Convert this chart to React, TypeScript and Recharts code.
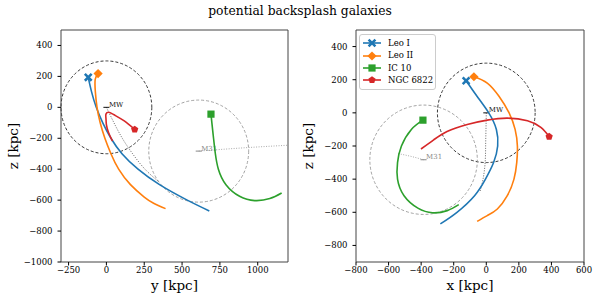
import React from "react";
import { ScatterChart, Scatter, XAxis, YAxis, ReferenceArea, ReferenceDot, Label } from "recharts";

// ================= Orbits (x, y, z in kpc) =================
const leoIX = [-124, -57, 15, 62, 70, 45, -5, -72, -180, -282];
const leoIY = [-120, -98, -67, -24, 30, 103, 209, 351, 534, 680];
const leoIZ = [194, 100, 0, -100, -200, -300, -400, -500, -600, -670];

const leoIIX = [-76, 6, 78, 140, 177, 191, 187, 170, 129, 68, 6, -56];
const leoIIY = [-55, -74, -73, -62, -41, -10, 30, 81, 159, 250, 312, 391];
const leoIIZ = [218, 180, 100, 0, -100, -200, -300, -400, -500, -580, -620, -655];

const ic10X = [-389, -460, -521, -545, -545, -505, -420, -330, -240, -169];
const ic10Y = [691, 697, 708, 720, 740, 790, 880, 980, 1080, 1158];
const ic10Z = [-44, -100, -200, -300, -400, -500, -575, -603, -590, -554];

const ngcX = [386, 335, 253, 129, 6, -117, -241, -323, -401];
const ngcY = [187, 118, 50, 15, -3, -3, 0, 14, 40];
const ngcZ = [-143, -88, -48, -32, -44, -70, -112, -163, -218];

// host tracks
const mwX = [0, -2, -4, -7, -20, -40];
const mwY = [0, 50, 105, 173, 255, 345];
const mwZ = [0, -100, -200, -300, -400, -480];

const m31X = [-385, -465, -545];
const m31Y = [610, 905, 1200];
const m31Z = [-283, -262, -245];

const MW_R = 300;
const M31_R = 330;

// ================= Ticks =================
const leftXTicks = [-250, 0, 250, 500, 750, 1000];
const leftZTicks = [-1000, -800, -600, -400, -200, 0, 200, 400];
const rightXTicks = [-800, -600, -400, -200, 0, 200, 400, 600];
const rightZTicks = [-800, -600, -400, -200, 0, 200, 400];

const galaxies = [
  { name: "Leo I", color: "#1f77b4", marker: "X", x: leoIX, y: leoIY, z: leoIZ },
  { name: "Leo II", color: "#ff7f0e", marker: "D", x: leoIIX, y: leoIIY, z: leoIIZ },
  { name: "IC 10", color: "#2ca02c", marker: "s", x: ic10X, y: ic10Y, z: ic10Z },
  { name: "NGC 6822", color: "#d62728", marker: "p", x: ngcX, y: ngcY, z: ngcZ },
];

const FONT = "'DejaVu Serif', serif";

const track = (h: number[], z: number[]) => h.map((v, i) => ({ h: v, z: z[i] }));
const minus = (v: number) => String(v).replace("-", "\u2212");

const MarkerIcon = ({ type, cx, cy, color }: any) => {
  if (type === "X") {
    const a = 4.3, w = 1.8;
    const pts = [
      [0, -w], [a - w, -a], [a, -a + w], [w, 0], [a, a - w], [a - w, a],
      [0, w], [-a + w, a], [-a, a - w], [-w, 0], [-a, -a + w], [-a + w, -a],
    ].map(([px, py]) => `${cx + px},${cy + py}`).join(" ");
    return <polygon points={pts} fill={color} />;
  }
  if (type === "D") {
    const r = 4.6;
    return <polygon points={`${cx},${cy - r} ${cx + r},${cy} ${cx},${cy + r} ${cx - r},${cy}`} fill={color} />;
  }
  if (type === "s") {
    return <rect x={cx - 3.6} y={cy - 3.6} width={7.2} height={7.2} fill={color} />;
  }
  const r = 3.8;
  const pts = [0, 1, 2, 3, 4]
    .map((k) => {
      const t = -Math.PI / 2 + (k * 2 * Math.PI) / 5;
      return `${cx + r * Math.cos(t)},${cy + r * Math.sin(t)}`;
    })
    .join(" ");
  return <polygon points={pts} fill={color} />;
};

const circleShape = (stroke: string) => (p: any) => (
  <ellipse
    cx={p.x + p.width / 2}
    cy={p.y + p.height / 2}
    rx={p.width / 2}
    ry={p.height / 2}
    fill="none"
    stroke={stroke}
    strokeWidth={0.9}
    strokeDasharray="3 2"
  />
);

const hostLabel = (text: string, color: string) => (p: any) => (
  <g>
    <line x1={p.cx - 3} x2={p.cx + 3} y1={p.cy} y2={p.cy} stroke={color} strokeWidth={1} />
    <text x={p.cx + 2.5} y={p.cy - 0.5} fontSize={7} fontFamily={FONT} fill={color}>
      {text}
    </text>
  </g>
);

const Panel = ({ axis, xDomain, zDomain, xTicks, zTicks, margin }: any) => {
  const mwH = axis === "x" ? mwX : mwY;
  const m31H = axis === "x" ? m31X : m31Y;
  const m31C = axis === "x" ? m31X[0] : m31Y[0];
  const tickStyle = { fontFamily: FONT, fontSize: 8.5, fill: "#000" };
  return (
    <ScatterChart width={300} height={300} margin={margin}>
      <XAxis
        type="number"
        dataKey="h"
        domain={xDomain}
        ticks={xTicks}
        interval={0}
        allowDataOverflow
        tick={tickStyle}
        tickSize={3.5}
        tickMargin={1}
        tickLine={{ stroke: "#000" }}
        axisLine={false}
        tickFormatter={minus}
        height={30}
      >
        <Label
          content={(p: any) => (
            <text
              x={p.viewBox.x + p.viewBox.width / 2}
              y={p.viewBox.y + 28}
              textAnchor="middle"
              fontFamily={FONT}
              fontSize={13.5}
              fill="#000"
            >
              {axis} [kpc]
            </text>
          )}
        />
      </XAxis>
      <YAxis
        type="number"
        dataKey="z"
        domain={zDomain}
        ticks={zTicks}
        interval={0}
        allowDataOverflow
        tick={tickStyle}
        tickSize={3.5}
        tickMargin={5}
        tickLine={{ stroke: "#000" }}
        axisLine={false}
        tickFormatter={minus}
        width={40}
      >
        <Label
          content={(p: any) => {
            const cx = p.viewBox.x - 3;
            const cy = p.viewBox.y + p.viewBox.height / 2;
            return (
              <text
                x={cx}
                y={cy}
                transform={`rotate(-90 ${cx} ${cy})`}
                textAnchor="middle"
                fontFamily={FONT}
                fontSize={13.5}
                fill="#000"
              >
                z [kpc]
              </text>
            );
          }}
        />
      </YAxis>

      {/* host spheres */}
      <ReferenceArea x1={-MW_R} x2={MW_R} y1={-MW_R} y2={MW_R} ifOverflow="visible" shape={circleShape("#222")} />
      <ReferenceArea
        x1={m31C - M31_R}
        x2={m31C + M31_R}
        y1={m31Z[0] - M31_R}
        y2={m31Z[0] + M31_R}
        ifOverflow="visible"
        shape={circleShape("#999")}
      />

      {/* host tracks */}
      <Scatter
        data={track(mwH, mwZ)}
        fill="#666"
        line={{ stroke: "#666", strokeWidth: 1, strokeDasharray: "1 1.5" }}
        lineJointType="natural"
        shape={() => <g />}
        isAnimationActive={false}
      />
      <Scatter
        data={track(m31H, m31Z)}
        fill="#aaa"
        line={{ stroke: "#aaa", strokeWidth: 1, strokeDasharray: "1 1.5" }}
        lineJointType="natural"
        shape={() => <g />}
        isAnimationActive={false}
      />
      <ReferenceDot x={0} y={0} ifOverflow="visible" shape={hostLabel("MW", "#111")} />
      <ReferenceDot x={m31C} y={m31Z[0]} ifOverflow="visible" shape={hostLabel("M31", "#888")} />

      {/* galaxy orbits */}
      {galaxies.map((g) => (
        <Scatter
          key={g.name}
          data={track(axis === "x" ? g.x : g.y, g.z)}
          fill={g.color}
          line={{ stroke: g.color, strokeWidth: 1.6 }}
          lineJointType="natural"
          shape={() => <g />}
          isAnimationActive={false}
        />
      ))}
      {galaxies.map((g) => (
        <Scatter
          key={g.name + "-now"}
          data={track(axis === "x" ? g.x : g.y, g.z).slice(0, 1)}
          fill={g.color}
          shape={(p: any) => <MarkerIcon type={g.marker} cx={p.cx} cy={p.cy} color={g.color} />}
          isAnimationActive={false}
        />
      ))}

      {/* frame */}
      <ReferenceArea
        x1={xDomain[0]}
        x2={xDomain[1]}
        y1={zDomain[0]}
        y2={zDomain[1]}
        ifOverflow="visible"
        fill="none"
        fillOpacity={0}
        stroke="#444"
        strokeWidth={1}
      />
    </ScatterChart>
  );
};

const LegendBox = () => (
  <div
    style={{
      position: "absolute",
      left: 359,
      top: 34,
      width: 75,
      padding: "2px 0",
      border: "1px solid #ccc",
      borderRadius: 3,
      background: "rgba(255,255,255,0.85)",
      fontFamily: FONT,
      fontSize: 8.5,
      lineHeight: "12.4px",
    }}
  >
    {galaxies.map((g) => (
      <div key={g.name} style={{ display: "flex", alignItems: "center", height: 12.4 }}>
        <svg width={26} height={12} style={{ marginLeft: 1 }}>
          <line x1={2} x2={20} y1={6} y2={6} stroke={g.color} strokeWidth={1.6} />
          <MarkerIcon type={g.marker} cx={11} cy={6} color={g.color} />
        </svg>
        <span style={{ marginLeft: 1 }}>{g.name}</span>
      </div>
    ))}
  </div>
);

const App = () => {
  return (
    <div style={{ position: "absolute", left: 0, top: 0, width: 600, height: 300, background: "#fff" }}>
      <div
        style={{
          position: "absolute",
          top: 4,
          width: 600,
          textAlign: "center",
          fontFamily: FONT,
          fontSize: 12.3,
        }}
      >
        potential backsplash galaxies
      </div>
      <div style={{ position: "absolute", left: 0, top: 0 }}>
        <Panel
          axis="y"
          xDomain={[-300, 1200]}
          zDomain={[-1000, 500]}
          xTicks={leftXTicks}
          zTicks={leftZTicks}
          margin={{ top: 30, right: 12, bottom: 8, left: 21 }}
        />
      </div>
      <div style={{ position: "absolute", left: 300, top: 0 }}>
        <Panel
          axis="x"
          xDomain={[-800, 600]}
          zDomain={[-900, 500]}
          xTicks={rightXTicks}
          zTicks={rightZTicks}
          margin={{ top: 30, right: 16, bottom: 8, left: 16 }}
        />
      </div>
      <LegendBox />
    </div>
  );
};

export default App;
